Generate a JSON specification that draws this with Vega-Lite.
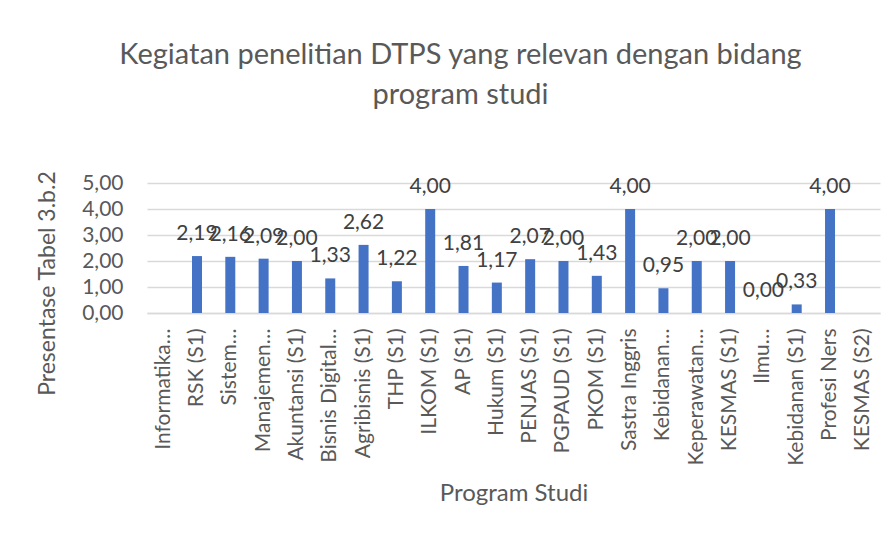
{
  "$schema": "https://vega.github.io/schema/vega-lite/v6.json",
  "width": 733,
  "height": 130,
  "autosize": {"type": "none"},
  "padding": {"left": 147, "top": 183, "right": 14, "bottom": 232},
  "background": "white",
  "config": {
    "locale": {"number": {"decimal": ",", "thousands": ".", "grouping": [3], "currency": ["", ""]}},
    "view": {"stroke": null},
    "font": "Lato"
  },
  "title": {
    "text": ["Kegiatan penelitian DTPS yang relevan dengan bidang", "program studi"],
    "font": "Lato",
    "fontSize": 29,
    "fontWeight": "normal",
    "color": "#595959",
    "lineHeight": 40,
    "anchor": "middle",
    "dx": -53,
    "offset": 60
  },
  "data": {
    "values": [
      {"prodi": "Informatika…", "nilai": null},
      {"prodi": "RSK (S1)", "nilai": 2.19},
      {"prodi": "Sistem…", "nilai": 2.16},
      {"prodi": "Manajemen…", "nilai": 2.09},
      {"prodi": "Akuntansi  (S1)", "nilai": 2.00},
      {"prodi": "Bisnis Digital…", "nilai": 1.33},
      {"prodi": "Agribisnis  (S1)", "nilai": 2.62},
      {"prodi": "THP (S1)", "nilai": 1.22},
      {"prodi": "ILKOM (S1)", "nilai": 4.00},
      {"prodi": "AP (S1)", "nilai": 1.81},
      {"prodi": "Hukum (S1)", "nilai": 1.17},
      {"prodi": "PENJAS (S1)", "nilai": 2.07},
      {"prodi": "PGPAUD (S1)", "nilai": 2.00},
      {"prodi": "PKOM (S1)", "nilai": 1.43},
      {"prodi": "Sastra Inggris", "nilai": 4.00},
      {"prodi": "Kebidanan…", "nilai": 0.95},
      {"prodi": "Keperawatan…", "nilai": 2.00},
      {"prodi": "KESMAS (S1)", "nilai": 2.00},
      {"prodi": "Ilmu…", "nilai": 0.00},
      {"prodi": "Kebidanan (S1)", "nilai": 0.33},
      {"prodi": "Profesi Ners", "nilai": 4.00},
      {"prodi": "KESMAS (S2)", "nilai": null}
    ]
  },
  "encoding": {
    "x": {
      "field": "prodi",
      "type": "nominal",
      "sort": null,
      "scale": {
        "domain": ["Informatika…", "RSK (S1)", "Sistem…", "Manajemen…", "Akuntansi  (S1)", "Bisnis Digital…", "Agribisnis  (S1)", "THP (S1)", "ILKOM (S1)", "AP (S1)", "Hukum (S1)", "PENJAS (S1)", "PGPAUD (S1)", "PKOM (S1)", "Sastra Inggris", "Kebidanan…", "Keperawatan…", "KESMAS (S1)", "Ilmu…", "Kebidanan (S1)", "Profesi Ners", "KESMAS (S2)"],
        "paddingInner": 0.7,
        "paddingOuter": 0.35
      },
      "axis": {
        "title": "Program Studi",
        "titleFont": "Lato",
        "titleFontSize": 24,
        "titleFontWeight": "normal",
        "titleColor": "#595959",
        "titlePadding": 16,
        "labelAngle": -90,
        "labelFont": "Lato",
        "labelFontSize": 21,
        "labelColor": "#595959",
        "labelLimit": 300,
        "labelPadding": 15,
        "ticks": false,
        "domainColor": "#D9D9D9",
        "domainWidth": 1.5
      }
    },
    "y": {
      "field": "nilai",
      "type": "quantitative",
      "scale": {"domain": [0, 5], "nice": false},
      "axis": {
        "title": "Presentase Tabel 3.b.2",
        "titleFont": "Lato",
        "titleFontSize": 23,
        "titleFontWeight": "normal",
        "titleColor": "#595959",
        "titlePadding": 22,
        "titleY": 100,
        "values": [0, 1, 2, 3, 4, 5],
        "format": ",.2f",
        "labelFont": "Lato",
        "labelFontSize": 21,
        "labelColor": "#595959",
        "labelPadding": 24,
        "ticks": false,
        "domain": false,
        "gridColor": "#D9D9D9",
        "gridWidth": 1.5
      }
    }
  },
  "layer": [
    {"mark": {"type": "bar", "color": "#4472C4"}},
    {
      "transform": [{"filter": "isValid(datum.nilai)"}],
      "mark": {"type": "text", "baseline": "alphabetic", "dy": -16, "font": "Lato", "fontSize": 21, "color": "#404040"},
      "encoding": {"text": {"field": "nilai", "type": "quantitative", "format": ",.2f"}}
    }
  ]
}
